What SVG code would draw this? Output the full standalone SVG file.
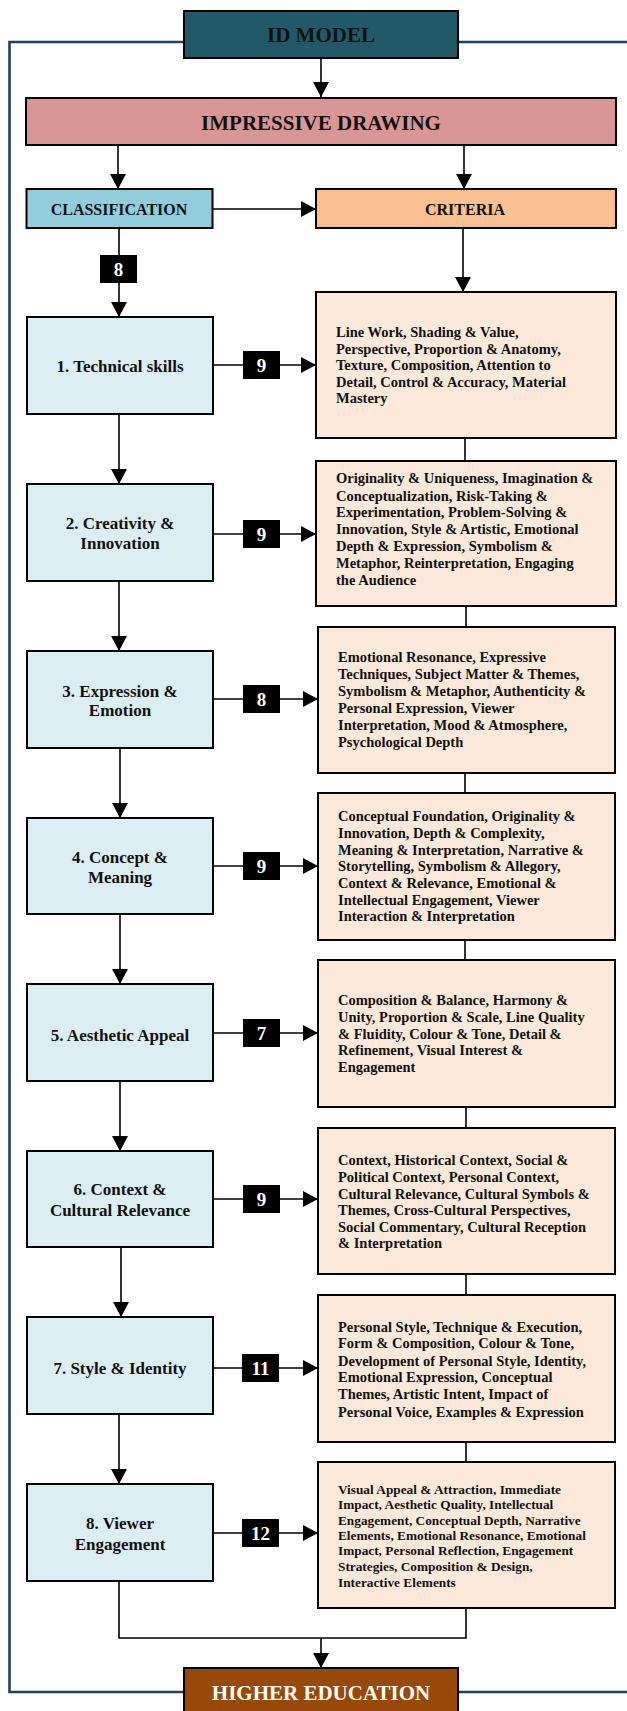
<svg xmlns="http://www.w3.org/2000/svg" width="627" height="1711" viewBox="0 0 627 1711">
<style>
.t{font-family:"Liberation Serif","Times New Roman",serif;font-weight:bold;fill:#111}
.hd{font-size:21px;text-anchor:middle}
.sh{font-size:16px;text-anchor:middle}
.nd{font-size:17px;text-anchor:middle}
.cr{font-size:14.5px}
.cr8{font-size:13.3px}
.bn{font-size:19px;text-anchor:middle;fill:#fff}
.box{stroke:#000;stroke-width:2}
.node{fill:#DBEEF3}
.crit{fill:#FDE9D9}
.badge{fill:#000}
.ln{stroke:#000;stroke-width:1.6;fill:none}
.frame{stroke:#243F60;stroke-width:2.6;fill:none}
</style>
<defs>
<marker id="ah" markerWidth="15" markerHeight="16" refX="15" refY="8" orient="auto" markerUnits="userSpaceOnUse">
<path d="M0,0 L15,8 L0,16 z" fill="#000"/>
</marker>
</defs>

<g id="frame">
<polyline class="frame" points="184,42 9.5,42 9.5,1692 184,1692"/>
<line class="frame" x1="458" y1="42" x2="627" y2="42"/>
<line class="frame" x1="458" y1="1692" x2="627" y2="1692"/>
</g>

<g id="connectors">
<line class="ln" x1="321" y1="59" x2="321" y2="97" marker-end="url(#ah)"/>
<line class="ln" x1="118" y1="145" x2="118" y2="189" marker-end="url(#ah)"/>
<line class="ln" x1="464" y1="145" x2="464" y2="189" marker-end="url(#ah)"/>
<line class="ln" x1="212" y1="209" x2="316" y2="209" marker-end="url(#ah)"/>
<line class="ln" x1="119" y1="228" x2="119" y2="317" marker-end="url(#ah)"/>
<line class="ln" x1="463" y1="228" x2="463" y2="292" marker-end="url(#ah)"/>
<line class="ln" x1="119" y1="414" x2="119" y2="484" marker-end="url(#ah)"/>
<line class="ln" x1="119" y1="581" x2="119" y2="651" marker-end="url(#ah)"/>
<line class="ln" x1="120" y1="748" x2="120" y2="818" marker-end="url(#ah)"/>
<line class="ln" x1="120" y1="914" x2="120" y2="984" marker-end="url(#ah)"/>
<line class="ln" x1="120" y1="1081" x2="120" y2="1151" marker-end="url(#ah)"/>
<line class="ln" x1="121" y1="1247" x2="121" y2="1317" marker-end="url(#ah)"/>
<line class="ln" x1="119" y1="1414" x2="119" y2="1484" marker-end="url(#ah)"/>
<line class="ln" x1="465" y1="438" x2="465" y2="461"/>
<line class="ln" x1="466" y1="606" x2="466" y2="627"/>
<line class="ln" x1="465" y1="773" x2="465" y2="793"/>
<line class="ln" x1="465" y1="940" x2="465" y2="960"/>
<line class="ln" x1="466" y1="1107" x2="466" y2="1128"/>
<line class="ln" x1="466" y1="1274" x2="466" y2="1295"/>
<line class="ln" x1="466" y1="1442" x2="466" y2="1462"/>
<polyline class="ln" points="119,1581 119,1638 466,1638 466,1608"/>
<line class="ln" x1="321" y1="1638" x2="321" y2="1668" marker-end="url(#ah)"/>
<line class="ln" x1="213" y1="365" x2="316" y2="365" marker-end="url(#ah)"/>
<line class="ln" x1="213" y1="534" x2="316" y2="534" marker-end="url(#ah)"/>
<line class="ln" x1="213" y1="699" x2="318" y2="699" marker-end="url(#ah)"/>
<line class="ln" x1="213" y1="866" x2="318" y2="866" marker-end="url(#ah)"/>
<line class="ln" x1="213" y1="1033" x2="318" y2="1033" marker-end="url(#ah)"/>
<line class="ln" x1="213" y1="1199" x2="318" y2="1199" marker-end="url(#ah)"/>
<line class="ln" x1="213" y1="1368" x2="318" y2="1368" marker-end="url(#ah)"/>
<line class="ln" x1="213" y1="1533" x2="318" y2="1533" marker-end="url(#ah)"/>
</g>

<g id="badges">
<rect class="badge" x="100" y="255" width="37" height="28"/><text class="t bn" x="118.5" y="276">8</text>
<rect class="badge" x="243" y="351" width="37" height="28"/><text class="t bn" x="261.5" y="372">9</text>
<rect class="badge" x="243" y="520" width="37" height="28"/><text class="t bn" x="261.5" y="541">9</text>
<rect class="badge" x="243" y="685" width="37" height="28"/><text class="t bn" x="261.5" y="706">8</text>
<rect class="badge" x="243" y="852" width="37" height="28"/><text class="t bn" x="261.5" y="873">9</text>
<rect class="badge" x="243" y="1019" width="37" height="28"/><text class="t bn" x="261.5" y="1040">7</text>
<rect class="badge" x="243" y="1185" width="37" height="28"/><text class="t bn" x="261.5" y="1206">9</text>
<rect class="badge" x="242" y="1354" width="37" height="28"/><text class="t bn" x="260.5" y="1375">11</text>
<rect class="badge" x="242" y="1519" width="37" height="28"/><text class="t bn" x="260.5" y="1540">12</text>
</g>

<g id="id-model">
<rect class="box" x="184" y="11" width="274" height="47" fill="#215968"/>
<text class="t hd" x="321" y="42">ID MODEL</text>
</g>
<g id="impressive-drawing">
<rect class="box" x="26" y="98" width="590" height="47" fill="#D99694"/>
<text class="t hd" x="321" y="130">IMPRESSIVE DRAWING</text>
</g>
<g id="classification">
<rect class="box" x="26.5" y="189" width="186" height="39" fill="#92CDDC"/>
<text class="t sh" x="119" y="215">CLASSIFICATION</text>
</g>
<g id="criteria">
<rect class="box" x="316" y="189" width="300" height="39" fill="#FAC090"/>
<text class="t sh" x="465" y="215">CRITERIA</text>
</g>

<g id="n1"><rect class="box node" x="27" y="317" width="186" height="97"/>
<text class="t nd" x="120" y="372">1. Technical skills</text></g>
<g id="n2"><rect class="box node" x="27" y="484" width="186" height="97"/>
<text class="t nd" x="120" y="529">2. Creativity &amp;</text><text class="t nd" x="120" y="549">Innovation</text></g>
<g id="n3"><rect class="box node" x="27" y="651" width="186" height="97"/>
<text class="t nd" x="120" y="696.5">3. Expression &amp;</text><text class="t nd" x="120" y="716">Emotion</text></g>
<g id="n4"><rect class="box node" x="27" y="818" width="186" height="96"/>
<text class="t nd" x="120" y="862.5">4. Concept &amp;</text><text class="t nd" x="120" y="882.5">Meaning</text></g>
<g id="n5"><rect class="box node" x="27" y="984" width="186" height="97"/>
<text class="t nd" x="120" y="1040.5">5. Aesthetic Appeal</text></g>
<g id="n6"><rect class="box node" x="27" y="1151" width="186" height="96"/>
<text class="t nd" x="120" y="1195">6. Context &amp;</text><text class="t nd" x="120" y="1216">Cultural Relevance</text></g>
<g id="n7"><rect class="box node" x="27" y="1317" width="186" height="97"/>
<text class="t nd" x="120" y="1373.5">7. Style &amp; Identity</text></g>
<g id="n8"><rect class="box node" x="27" y="1484" width="186" height="97"/>
<text class="t nd" x="120" y="1529">8. Viewer</text><text class="t nd" x="120" y="1550">Engagement</text></g>

<g id="c1"><rect class="box crit" x="316" y="292" width="300" height="146"/>
<text class="t cr" x="336" y="337">Line Work, Shading &amp; Value,</text>
<text class="t cr" x="336" y="353.5">Perspective, Proportion &amp; Anatomy,</text>
<text class="t cr" x="336" y="370">Texture, Composition, Attention to</text>
<text class="t cr" x="336" y="386.5">Detail, Control &amp; Accuracy, Material</text>
<text class="t cr" x="336" y="403">Mastery</text></g>

<g id="c2"><rect class="box crit" x="316" y="461" width="300" height="145"/>
<text class="t cr" x="336" y="483">Originality &amp; Uniqueness, Imagination &amp;</text>
<text class="t cr" x="336" y="500.5">Conceptualization, Risk-Taking &amp;</text>
<text class="t cr" x="336" y="517">Experimentation, Problem-Solving &amp;</text>
<text class="t cr" x="336" y="534">Innovation, Style &amp; Artistic, Emotional</text>
<text class="t cr" x="336" y="551">Depth &amp; Expression, Symbolism &amp;</text>
<text class="t cr" x="336" y="568">Metaphor, Reinterpretation, Engaging</text>
<text class="t cr" x="336" y="585">the Audience</text></g>

<g id="c3"><rect class="box crit" x="318" y="627" width="297" height="146"/>
<text class="t cr" x="338" y="662">Emotional Resonance, Expressive</text>
<text class="t cr" x="338" y="679">Techniques, Subject Matter &amp; Themes,</text>
<text class="t cr" x="338" y="696">Symbolism &amp; Metaphor, Authenticity &amp;</text>
<text class="t cr" x="338" y="713">Personal Expression, Viewer</text>
<text class="t cr" x="338" y="730">Interpretation, Mood &amp; Atmosphere,</text>
<text class="t cr" x="338" y="747">Psychological Depth</text></g>

<g id="c4"><rect class="box crit" x="318" y="793" width="297" height="147"/>
<text class="t cr" x="338" y="821">Conceptual Foundation, Originality &amp;</text>
<text class="t cr" x="338" y="838">Innovation, Depth &amp; Complexity,</text>
<text class="t cr" x="338" y="854.5">Meaning &amp; Interpretation, Narrative &amp;</text>
<text class="t cr" x="338" y="871">Storytelling, Symbolism &amp; Allegory,</text>
<text class="t cr" x="338" y="888">Context &amp; Relevance, Emotional &amp;</text>
<text class="t cr" x="338" y="905">Intellectual Engagement, Viewer</text>
<text class="t cr" x="338" y="921">Interaction &amp; Interpretation</text></g>

<g id="c5"><rect class="box crit" x="318" y="960" width="297" height="147"/>
<text class="t cr" x="338" y="1005">Composition &amp; Balance, Harmony &amp;</text>
<text class="t cr" x="338" y="1021.5">Unity, Proportion &amp; Scale, Line Quality</text>
<text class="t cr" x="338" y="1038.5">&amp; Fluidity, Colour &amp; Tone, Detail &amp;</text>
<text class="t cr" x="338" y="1055">Refinement, Visual Interest &amp;</text>
<text class="t cr" x="338" y="1071.5">Engagement</text></g>

<g id="c6"><rect class="box crit" x="318" y="1128" width="297" height="146"/>
<text class="t cr" x="338" y="1164.5">Context, Historical Context, Social &amp;</text>
<text class="t cr" x="338" y="1181.5">Political Context, Personal Context,</text>
<text class="t cr" x="338" y="1198.5">Cultural Relevance, Cultural Symbols &amp;</text>
<text class="t cr" x="338" y="1215">Themes, Cross-Cultural Perspectives,</text>
<text class="t cr" x="338" y="1231.5">Social Commentary, Cultural Reception</text>
<text class="t cr" x="338" y="1248">&amp; Interpretation</text></g>

<g id="c7"><rect class="box crit" x="318" y="1295" width="297" height="147"/>
<text class="t cr" x="338" y="1332">Personal Style, Technique &amp; Execution,</text>
<text class="t cr" x="338" y="1348">Form &amp; Composition, Colour &amp; Tone,</text>
<text class="t cr" x="338" y="1365.5">Development of Personal Style, Identity,</text>
<text class="t cr" x="338" y="1382">Emotional Expression, Conceptual</text>
<text class="t cr" x="338" y="1398.5">Themes, Artistic Intent, Impact of</text>
<text class="t cr" x="338" y="1416.5">Personal Voice, Examples &amp; Expression</text></g>

<g id="c8"><rect class="box crit" x="318" y="1462" width="297" height="146"/>
<text class="t cr8" x="338" y="1494">Visual Appeal &amp; Attraction, Immediate</text>
<text class="t cr8" x="338" y="1509">Impact, Aesthetic Quality, Intellectual</text>
<text class="t cr8" x="338" y="1524.5">Engagement, Conceptual Depth, Narrative</text>
<text class="t cr8" x="338" y="1540">Elements, Emotional Resonance, Emotional</text>
<text class="t cr8" x="338" y="1554.5">Impact, Personal Reflection, Engagement</text>
<text class="t cr8" x="338" y="1570.5">Strategies, Composition &amp; Design,</text>
<text class="t cr8" x="338" y="1586.5">Interactive Elements</text></g>

<g id="higher-education">
<rect class="box" x="184" y="1668" width="274" height="50" fill="#984807"/>
<text class="t hd" x="321" y="1700" style="fill:#fff">HIGHER EDUCATION</text>
</g>
</svg>
